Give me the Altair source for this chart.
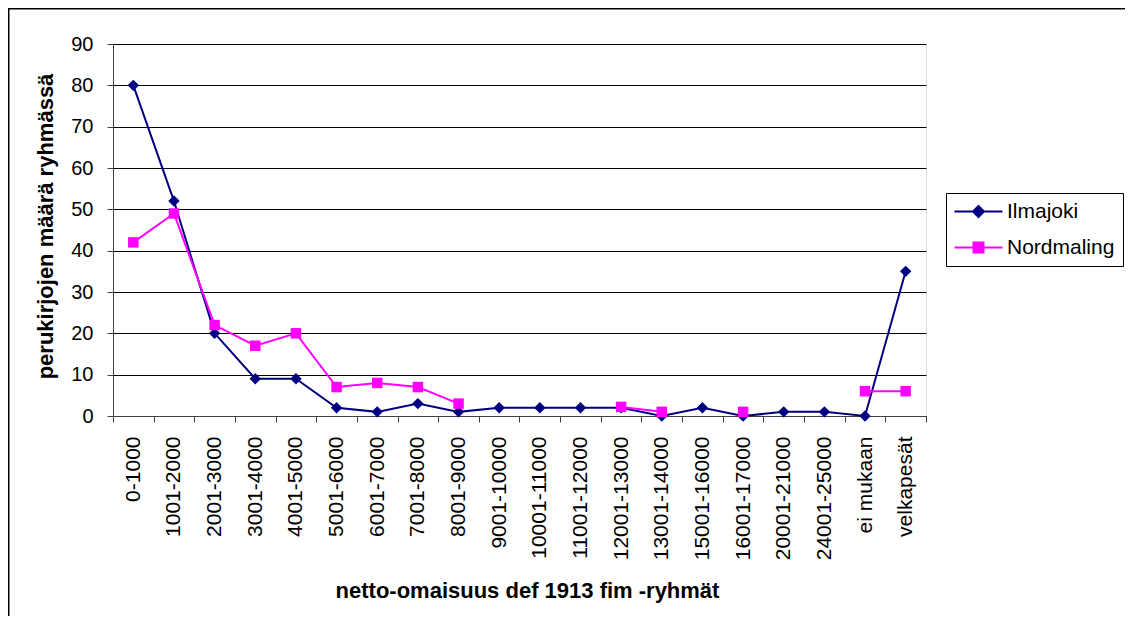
import altair as alt
import pandas as pd

categories = ["0-1000", "1001-2000", "2001-3000", "3001-4000", "4001-5000",
              "5001-6000", "6001-7000", "7001-8000", "8001-9000", "9001-10000",
              "10001-11000", "11001-12000", "12001-13000", "13001-14000",
              "15001-16000", "16001-17000", "20001-21000", "24001-25000",
              "ei mukaan", "velkapesät"]
ilmajoki = [80, 52, 20, 9, 9, 2, 1, 3, 1, 2, 2, 2, 2, 0, 2, 0, 1, 1, 0, 35]
nordmaling = [42, 49, 22, 17, 20, 7, 8, 7, 3, None, None, None, 2.2, 1, None, 1, None, None, 6, 6]
series_names = ["Ilmajoki", "Nordmaling"]
series_colors = ["#000080", "#FF00FF"]

rows = []
for name, vals in zip(series_names, [ilmajoki, nordmaling]):
    for c, v in zip(categories, vals):
        rows.append({"ryhma": c, "sarja": name, "arvo": v})
df = pd.DataFrame(rows)

FONT = "Liberation Sans"
W, H = 813, 372
PL, PT = 105, 36

x_enc = alt.X("ryhma:N", sort=categories, bandPosition=0.5,
              scale=alt.Scale(type="band", paddingInner=0, paddingOuter=0),
              axis=alt.Axis(title="netto-omaisuus def 1913 fim -ryhmät",
                            labelAngle=270, labelFont=FONT, labelFontSize=21,
                            labelColor="black", labelPadding=14, tickSize=6,
                            tickBand="extent", tickColor="#404040",
                            domainColor="#404040", labelOverlap=False,
                            titleFont=FONT, titleFontSize=22, titleFontWeight="bold",
                            titleColor="black", titleX=414, titleY=181,
                            titleBaseline="alphabetic", titleAnchor="start",
                            titleAlign="center", grid=False))
y_enc = alt.Y("arvo:Q",
              scale=alt.Scale(domain=[0, 90], nice=False, zero=True),
              axis=alt.Axis(title="perukirjojen määrä ryhmässä",
                            values=list(range(0, 91, 10)), labelFont=FONT,
                            labelFontSize=20, labelColor="black", labelPadding=14,
                            tickSize=6, tickColor="#404040", domainColor="#404040",
                            grid=True, gridColor="black", gridWidth=1, gridOpacity=1,
                            titleFont=FONT, titleFontSize=22, titleFontWeight="bold",
                            titleColor="black", titleX=-61, titleY=182,
                            titleAngle=270, titleBaseline="alphabetic",
                            titleAlign="center", titleAnchor="start"))

base = alt.Chart(df)

layers = []
for name, col, shape, size in zip(series_names, series_colors,
                                  ["diamond", "square"], [130, 110]):
    sub = base.transform_filter(alt.datum.sarja == name)
    layers.append(sub.mark_line(color=col, strokeWidth=2).encode(x=x_enc, y=y_enc))
    layers.append(sub.mark_point(color=col, filled=True, shape=shape, size=size,
                                 opacity=1, strokeWidth=0).encode(x=x_enc, y=y_enc))

leg_paths = ["M-4.8,0H4.8M0,-1.1L1.1,0L0,1.1L-1.1,0Z",
             "M-4.8,0H4.8M-1,-1H1V1H-1Z"]
legend = alt.Legend(title=None, orient="none", legendX=833, legendY=149,
                    labelFont=FONT, labelFontSize=21, labelColor="black",
                    strokeColor="black", fillColor="white", padding=8,
                    symbolSize=100, symbolStrokeWidth=2, symbolOpacity=1,
                    symbolOffset=14, labelOffset=18, rowPadding=14)
leg_layer = base.mark_point(filled=True, opacity=0).encode(
    x=x_enc, y=y_enc,
    fill=alt.Fill("sarja:N", scale=alt.Scale(domain=series_names, range=series_colors), legend=legend),
    stroke=alt.Stroke("sarja:N", scale=alt.Scale(domain=series_names, range=series_colors), legend=legend),
    shape=alt.Shape("sarja:N", scale=alt.Scale(domain=series_names, range=leg_paths), legend=legend),
)

frame = alt.Chart(alt.Data(values=[{}])).mark_rect(
    fill=None, stroke="black", strokeWidth=1.5, clip=False).encode(
    x=alt.value(-PL + 0.75), x2=alt.value(W + 400),
    y=alt.value(-PT + 0.75), y2=alt.value(H + 400))

chart = alt.layer(frame, *layers, leg_layer).properties(
    width=W, height=H,
    autosize=alt.AutoSizeParams(type="none"),
    padding={"left": PL, "top": PT, "right": 199, "bottom": 200},
).configure_view(fill="#C0C0C0", stroke="#808080", strokeWidth=1
).configure(background="white")

chart.save("out.html", embed_options={"renderer": "svg", "actions": False})
